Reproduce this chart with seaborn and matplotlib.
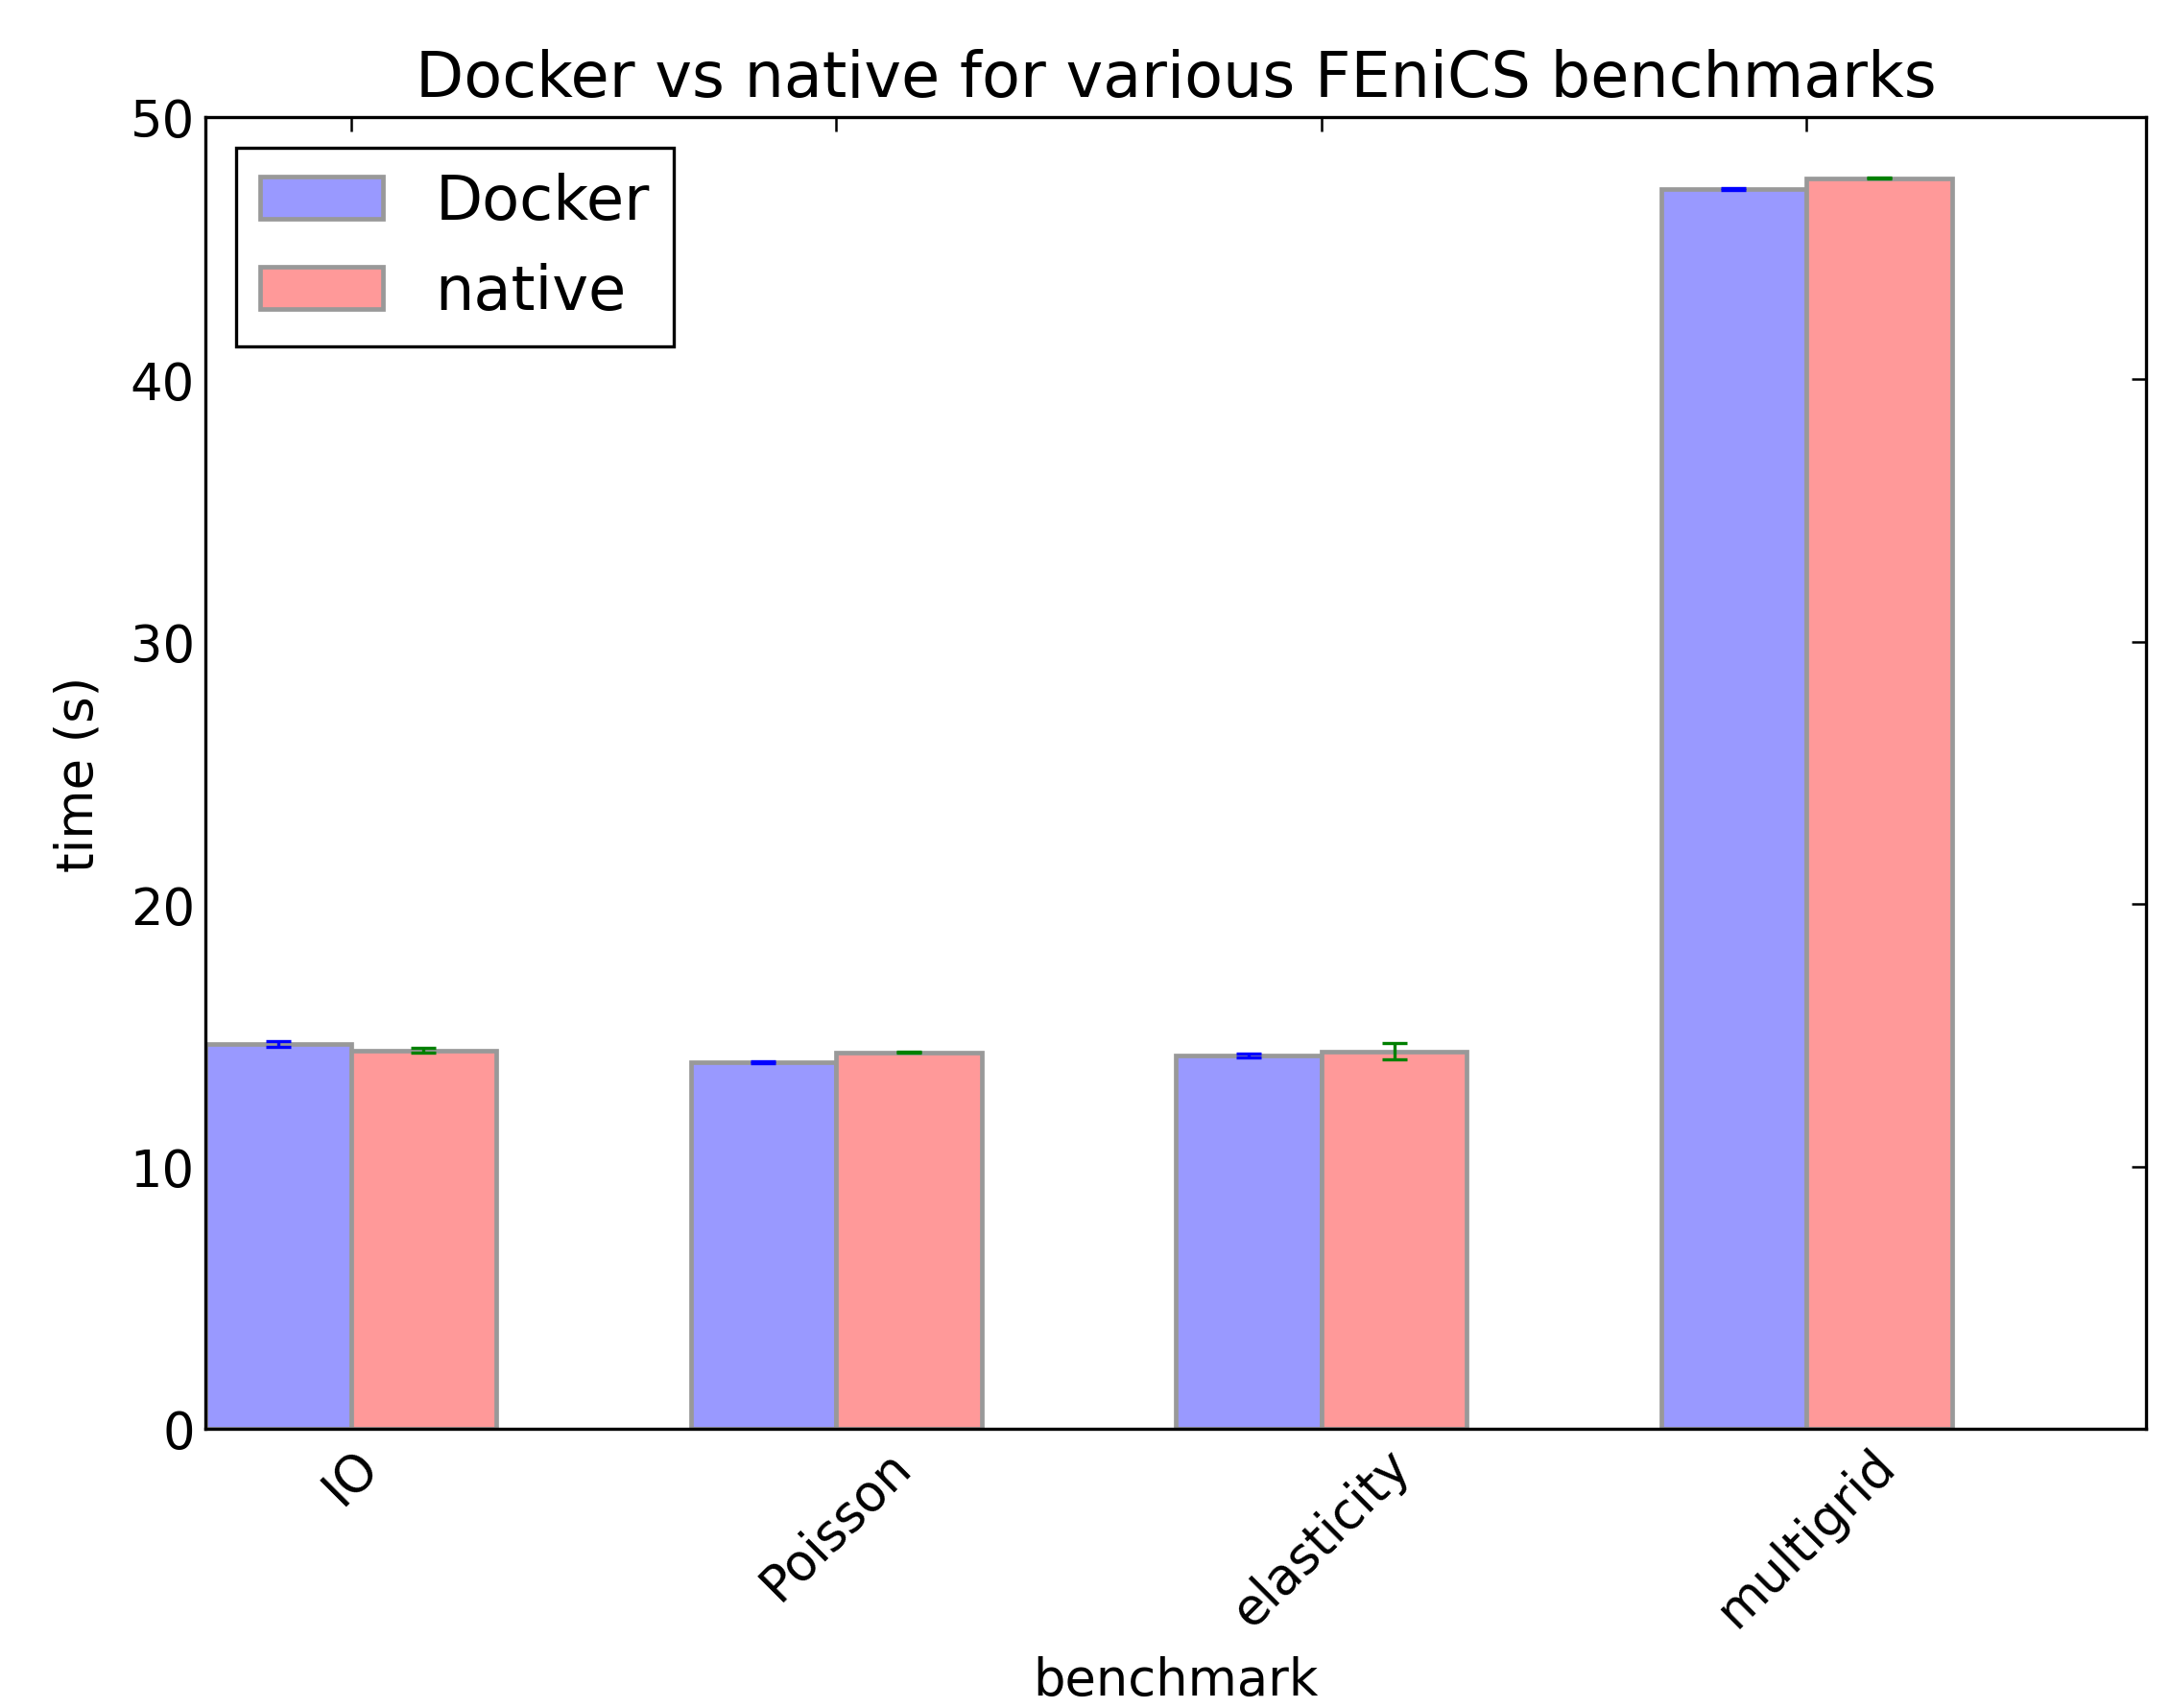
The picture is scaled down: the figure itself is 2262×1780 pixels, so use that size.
import numpy as np
import pandas as pd
import matplotlib
matplotlib.use("Agg")
import matplotlib.pyplot as plt
from matplotlib.patches import Patch
import seaborn as sns

# === Data ===
benchmarks = ["IO", "Poisson", "elasticity", "multigrid"]
docker_time = [14.66, 13.97, 14.23, 47.25]
native_time = [14.42, 14.34, 14.39, 47.67]
docker_err = [0.10, 0.02, 0.06, 0.03]
native_err = [0.10, 0.02, 0.32, 0.03]
series = ["Docker", "native"]

df = pd.DataFrame({
    "benchmark": benchmarks * 2,
    "time": docker_time + native_time,
    "setup": [series[0]] * 4 + [series[1]] * 4,
})

sns.set_style("white", rc={"text.color": "black", "axes.labelcolor": "black",
                           "xtick.color": "black", "ytick.color": "black"})
plt.rcParams["font.family"] = ["DejaVu Sans"]

fig = plt.figure(figsize=(11.31, 8.905), dpi=200)
ax = fig.add_axes([0.0946, 0.1634, 0.894, 0.7676])

# light blue / light red fills with gray outlines (old-style alpha look)
fills = ["#9999ff", "#ff9999"]
edge = "#999999"
sns.barplot(data=df, x="benchmark", y="time", hue="setup", order=benchmarks,
            hue_order=series, palette=fills, saturation=1, width=0.6,
            errorbar=None, edgecolor=edge, linewidth=1.7,
            legend=False, ax=ax)

# error bars on top of each bar
for cont, err, col in zip(ax.containers, [docker_err, native_err], ["blue", (0, 0.5, 0)]):
    xs = [p.get_x() + p.get_width() / 2 for p in cont.patches]
    ys = [p.get_height() for p in cont.patches]
    ax.errorbar(xs, ys, yerr=err, fmt="none", ecolor=col, elinewidth=1.2,
                capsize=4.8, capthick=1.2, zorder=5)

ax.set_xlim(-0.3, 3.7)
ax.set_ylim(0, 50)
ax.set_yticks([0, 10, 20, 30, 40, 50])
ax.set_xticks(range(len(benchmarks)))
ax.set_xticklabels(benchmarks, rotation=45, ha="center", fontsize=19)
ax.tick_params(axis="y", labelsize=19)
ax.tick_params(direction="in", top=True, right=True, length=5.5, width=0.9,
               color="black", pad=4)
for s in ax.spines.values():
    s.set_color("black")
    s.set_linewidth(1.2)

ax.set_title("Docker vs native for various FEniCS benchmarks", fontsize=23.5, pad=8)
ax.set_xlabel("benchmark", fontsize=19, labelpad=7)
ax.set_ylabel("time (s)", fontsize=19, labelpad=10)

handles = [Patch(facecolor=fills[0], edgecolor=edge, linewidth=1.7),
           Patch(facecolor=fills[1], edgecolor=edge, linewidth=1.7)]
leg = ax.legend(handles, series, loc="upper left", fontsize=23, frameon=True,
                fancybox=False, borderpad=0.4, labelspacing=0.5, handlelength=2.0,
                handletextpad=0.85, borderaxespad=0.5)
leg.get_frame().set_edgecolor("black")
leg.get_frame().set_linewidth(1.2)
leg.get_frame().set_alpha(1)

fig.savefig("out.png", dpi=200)
